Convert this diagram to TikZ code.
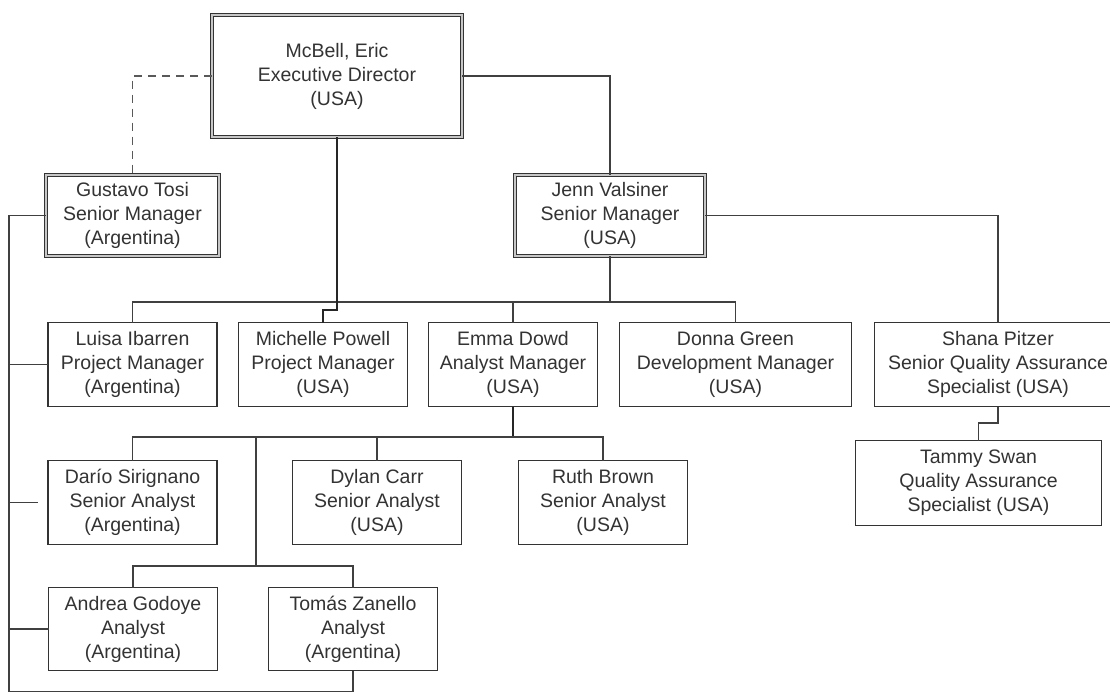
\documentclass[tikz,border=0pt]{standalone}
\usepackage{fontspec}
\setmainfont{Liberation Sans}
\begin{document}
\begin{tikzpicture}[x=1pt,y=-1pt,
  box/.style={draw=black!80, line width=1.2pt, fill=white, minimum height=84pt,
    inner sep=0pt, outer sep=0pt, align=center, text=black!80,
    font=\fontsize{19.5}{24}\selectfont},
  dbox/.style={box, double=black!22, double distance=1.8pt, line width=1.2pt},
  link/.style={draw=black!75, line width=1.3pt},
  thicklink/.style={draw=black!85, line width=1.8pt},
  dashlink/.style={draw=black!65, line width=1.4pt, dash pattern=on 8pt off 6pt}]
\useasboundingbox (0,0) rectangle (1110,691);

% helper coordinates (bus levels)
\coordinate (busA) at (0,302);
\coordinate (jogA) at (0,310);
\coordinate (jogB) at (0,423);
\coordinate (busB) at (0,437);
\coordinate (busC) at (256,566);
\coordinate (rail) at (9,691.25);

% nodes
\node[dbox, minimum width=250pt, minimum height=122pt] (mcbell) at (337,76) {McBell, Eric\\Executive Director\\(USA)};
\node[dbox, minimum width=173pt, minimum height=81pt] (gustavo) at (132.5,215.5) {Gustavo Tosi\\Senior Manager\\(Argentina)};
\node[dbox, minimum width=190pt, minimum height=81pt] (jenn) at (610,215.5) {Jenn Valsiner\\Senior Manager\\(USA)};

\node[box, minimum width=169pt] (luisa) at (132.5,364.5) {Luisa Ibarren\\Project Manager\\(Argentina)};
\node[box, minimum width=169pt] (michelle) at (323,364.5) {Michelle Powell\\Project Manager\\(USA)};
\node[box, minimum width=169pt] (emma) at (513,364.5) {Emma Dowd\\Analyst Manager\\(USA)};
\node[box, minimum width=232pt] (donna) at (735.5,364.5) {Donna Green\\Development Manager\\(USA)};
\node[box, minimum width=247pt] (shana) at (998,364.5) {Shana Pitzer\\Senior Quality Assurance\\Specialist (USA)};
\node[box, minimum width=246pt, minimum height=85pt] (tammy) at (978.5,483) {Tammy Swan\\Quality Assurance\\Specialist (USA)};

\node[box, minimum width=169pt] (dario) at (132.5,502.5) {Darío Sirignano\\Senior Analyst\\(Argentina)};
\node[box, minimum width=169pt] (dylan) at (377,502.5) {Dylan Carr\\Senior Analyst\\(USA)};
\node[box, minimum width=169pt] (ruth) at (603,502.5) {Ruth Brown\\Senior Analyst\\(USA)};

\node[box, minimum width=169pt, minimum height=83pt] (andrea) at (133,629) {Andrea Godoye\\Analyst\\(Argentina)};
\node[box, minimum width=169pt, minimum height=83pt] (tomas) at (353,629) {Tomás Zanello\\Analyst\\(Argentina)};

% connectors
\draw[dashlink] (mcbell.west) -| (gustavo.north);
\draw[link] (mcbell.east) -| (jenn.north);
\draw[link] (luisa.north) -- (luisa.north |- busA) -| (donna.north);
\draw[link] (emma.north) -- (emma.north |- busA);
\draw[thicklink] (mcbell.south) -- (mcbell.south |- jogA) -| (michelle.north);
\draw[link] (jenn.south) -- (jenn.south |- busA);
\draw[link] (jenn.east) -| (shana.north);
\draw[link] (shana.south) -- (shana.south |- jogB) -| (tammy.north);

\draw[thicklink] (emma.south) -- (emma.south |- busB);
\draw[link] (dario.north) -- (dario.north |- busB) -| (ruth.north);
\draw[link] (dylan.north) -- (dylan.north |- busB);
\draw[link] (busC |- busB) -- (busC);
\draw[link] (andrea.north) -- (andrea.north |- busC) -| (tomas.north);

\draw[link] (gustavo.west) -| (rail) -- (tomas.south |- rail) -- (tomas.south);
\draw[link] (luisa.west) -- (luisa.west -| rail);
\draw[link] (andrea.west) -- (andrea.west -| rail);
\draw[link] (rail |- dario.west) -- ([xshift=-10pt]dario.west);
\end{tikzpicture}
\end{document}
